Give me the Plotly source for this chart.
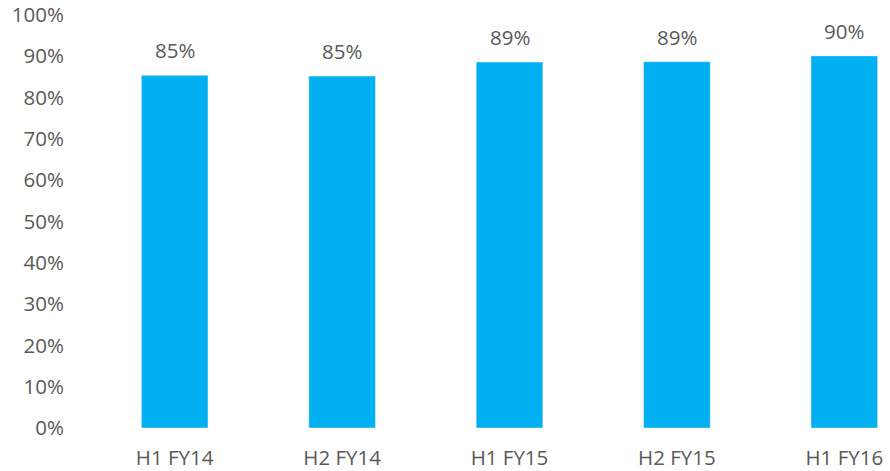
import plotly.graph_objects as go

categories = ["H1 FY14", "H2 FY14", "H1 FY15", "H2 FY15", "H1 FY16"]
values = [85.4, 85.2, 88.6, 88.7, 90.1]
y_ticks = list(range(0, 101, 10))

FONT = "Open Sans"
GREY = "#595959"
FS = 20.5

fig = go.Figure()
fig.add_trace(go.Bar(
    x=categories, y=values, marker_color="#00B0F0", width=0.398,
    hoverinfo="skip",
))
for c, v in zip(categories, values):
    fig.add_annotation(x=c, y=v, text=f"{round(v)}%", showarrow=False,
                       yanchor="middle", yshift=25,
                       font=dict(family=FONT, size=FS, color=GREY))

fig.update_layout(
    width=890, height=471,
    margin=dict(l=91, r=0, t=15, b=41),
    paper_bgcolor="white", plot_bgcolor="white",
    showlegend=False,
    font=dict(family=FONT, size=FS, color=GREY),
    bargap=0.6,
)
fig.update_xaxes(
    range=[-0.5, 4.273], showgrid=False, showline=False, zeroline=False,
    ticks="outside", ticklen=11, tickcolor="rgba(0,0,0,0)",
    tickfont=dict(family=FONT, size=FS, color=GREY),
)
fig.update_yaxes(
    range=[0, 100], tickvals=y_ticks, ticktext=[f"{t}%" for t in y_ticks],
    showgrid=False, showline=False, zeroline=False,
    ticks="outside", ticklen=22, tickcolor="rgba(0,0,0,0)",
    tickfont=dict(family=FONT, size=FS, color=GREY),
)
fig.write_html("out.html")
